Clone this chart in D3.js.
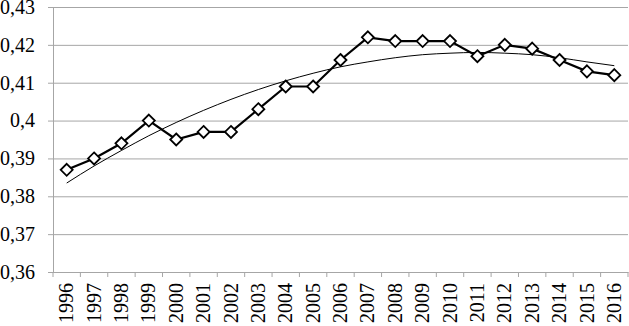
<!DOCTYPE html>
<html>
<head>
<meta charset="utf-8">
<script src="https://cdn.jsdelivr.net/npm/d3@7"></script>
<style>
  body { margin: 0; background: #fff; }
</style>
</head>
<body>
<svg id="chart"></svg>
<script>
// data
const years = ["1996", "1997", "1998", "1999", "2000", "2001", "2002", "2003", "2004", "2005", "2006",
  "2007", "2008", "2009", "2010", "2011", "2012", "2013", "2014", "2015", "2016"];
const values = [0.387, 0.390, 0.394, 0.400, 0.395, 0.397, 0.397, 0.403, 0.409, 0.409, 0.416,
  0.422, 0.421, 0.421, 0.421, 0.417, 0.420, 0.419, 0.416, 0.413, 0.412];
// thin trend line, also
const trend = [0.3835, 0.3880, 0.3921, 0.3960, 0.3995, 0.4027, 0.4056, 0.4082, 0.4105, 0.4125, 0.4142,
  0.4155, 0.4166, 0.4174, 0.4178, 0.4180, 0.4178, 0.4174, 0.4166, 0.4155, 0.4145];
const yTicks = [0.36, 0.37, 0.38, 0.39, 0.40, 0.41, 0.42, 0.43];

const width = 629, height = 326;
const margin = { top: 7, right: 1, bottom: 54, left: 53 };
const gridColor = "#a6a6a6";

const svg = d3.select("#chart").attr("width", width).attr("height", height);

const x = d3.scaleBand().domain(years).range([margin.left, width - margin.right]);
const y = d3.scaleLinear().domain([0.36, 0.43]).range([height - margin.bottom, margin.top]);
const cx = d => x(d) + x.bandwidth() / 2;

const fmt = d => d3.format(".2~f")(d).replace(".", ",");

// horizontal grid lines
svg.append("g")
  .attr("transform", "translate(" + margin.left + ",0)")
  .call(d3.axisLeft(y).tickValues(yTicks).tickSize(-(width - margin.left - margin.right)).tickFormat(""))
  .call(g => g.select(".domain").remove())
  .call(g => g.selectAll(".tick line").attr("stroke", gridColor));

// y axis
const yAxis = svg.append("g")
  .attr("transform", "translate(" + margin.left + ",0)")
  .call(d3.axisLeft(y).tickValues(yTicks).tickSize(5).tickSizeOuter(0).tickFormat(fmt));
yAxis.attr("font-family", null).attr("font-size", null);
yAxis.select(".domain").attr("stroke", gridColor);
yAxis.selectAll(".tick line").attr("stroke", gridColor);
yAxis.selectAll("text")
  .attr("x", -18)
  .attr("fill", "#000")
  .style("font-family", "Liberation Serif")
  .style("font-size", "20px");

// x axis
const xAxis = svg.append("g")
  .attr("transform", "translate(0," + (height - margin.bottom) + ")")
  .call(d3.axisBottom(x).tickSize(0).tickSizeOuter(0));
xAxis.attr("font-family", null).attr("font-size", null);
xAxis.select(".domain").attr("stroke", gridColor);
xAxis.selectAll(".tick text")
  .attr("transform", "rotate(-90)")
  .attr("x", -11)
  .attr("y", 0)
  .attr("dy", "0.33em")
  .attr("text-anchor", "end")
  .attr("fill", "#000")
  .style("font-family", "Liberation Serif")
  .style("font-size", "20px");

// tick marks between categories
svg.append("g")
  .selectAll("line")
  .data(years.concat(["end"]))
  .enter()
  .append("line")
  .attr("x1", (d, i) => i < years.length ? x(d) : x.range()[1])
  .attr("x2", (d, i) => i < years.length ? x(d) : x.range()[1])
  .attr("y1", height - margin.bottom)
  .attr("y2", height - margin.bottom + 5)
  .attr("stroke", gridColor);

// trend line
svg.append("path")
  .datum(trend)
  .attr("fill", "none")
  .attr("stroke", "#000")
  .attr("stroke-width", 1)
  .attr("d", d3.line().x((d, i) => cx(years[i])).y(d => y(d)).curve(d3.curveMonotoneX));

// main series
svg.append("path")
  .datum(values)
  .attr("fill", "none")
  .attr("stroke", "#000")
  .attr("stroke-width", 2.2)
  .attr("d", d3.line().x((d, i) => cx(years[i])).y(d => y(d)));

// diamond markers
svg.append("g")
  .selectAll("path")
  .data(values)
  .enter()
  .append("path")
  .attr("transform", (d, i) => "translate(" + cx(years[i]) + "," + y(d) + ")")
  .attr("d", "M0,-6L6,0L0,6L-6,0Z")
  .attr("fill", "#fff")
  .attr("stroke", "#000")
  .attr("stroke-width", 1.8);
</script>
</body>
</html>
